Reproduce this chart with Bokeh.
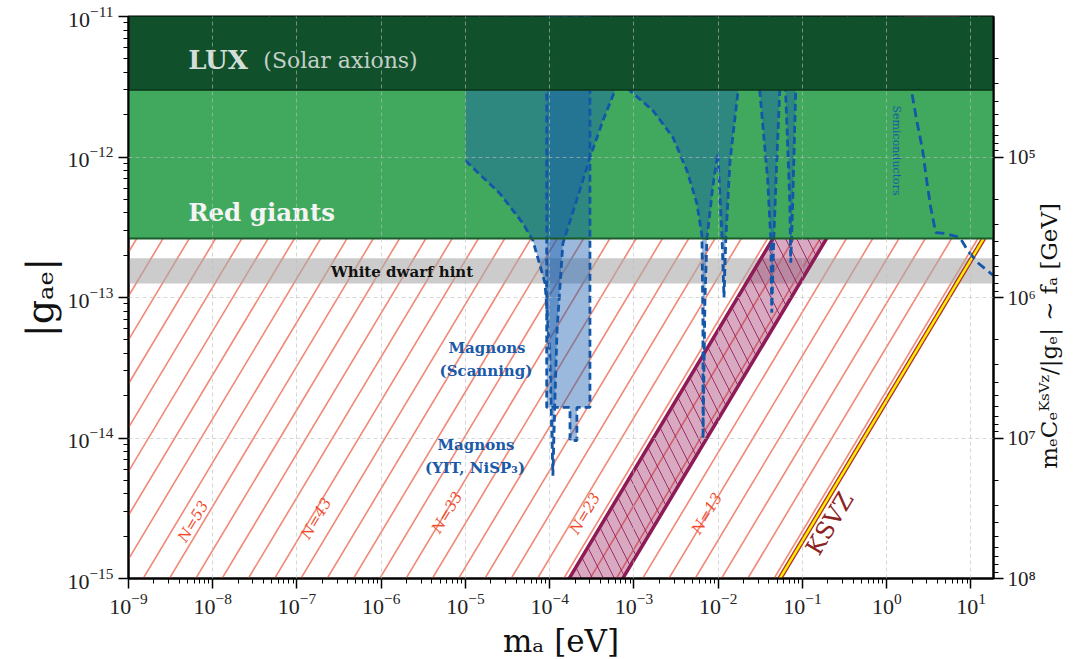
import numpy as np
from bokeh.plotting import figure
from bokeh.models import Range1d, LogAxis, FixedTicker, CustomJSTickFormatter
from bokeh.core.properties import value
from bokeh.embed import file_html
from bokeh.resources import INLINE

# ---------------- data ----------------
x_lim = [1e-9, 18.5]
y_lim = [1e-15, 1e-11]

lux_g = [3.0e-12, 1e-11]          # LUX (solar axions) excluded band
rg_g = [2.63e-13, 3.0e-12]        # red giants excluded band
wd_g = [1.26e-13, 1.9e-13]        # white dwarf hint band

# log10(m_a/eV) where each hatch line crosses g = 1e-15 (lines have g ∝ m_a)
hatch_log_m0 = [-11.322, -11.010, -10.698, -10.386, -10.074, -9.762, -9.450,
                -9.138, -8.826, -8.514, -8.202, -7.890, -7.578, -7.266, -6.954,
                -6.642, -6.330, -6.018, -5.706, -5.394, -5.082, -4.770, -4.458,
                -4.146, -3.834, -3.522, -3.210, -2.898, -2.586, -2.274, -1.962,
                -1.650, -1.338]

n_labels = ["N=53", "N=43", "N=33", "N=23", "N=13"]
n_label_logm = [-8.233, -6.773, -5.219, -3.582, -2.135]
n_label_logg = [-14.594, -14.573, -14.530, -14.537, -14.537]

# purple band (polygon vertices)
band_m = [1.70e-5, 1.70, 7.35, 7.35e-5]
band_g = [1e-16, 1e-11, 1e-11, 1e-16]

# KSVZ line
ksvz_m = [0.0269, 30.0]
ksvz_g = [5.0e-16, 5.58e-13]

# Magnons (YIT, NiSP3) projected reach
yit_m = [1.0e-5, 2.56e-5, 4.8e-5, 6.3e-5, 8.8e-5, 1.0e-4, 1.09e-4, 1.15e-4, 1.22e-4,
         1.43e-4, 2.27e-4, 3.0e-4, 4.28e-4, 5.94e-4, 6.8e-4, 8.0e-4, 8.95e-4,
         1.68e-3, 2.9e-3, 4.25e-3, 5.58e-3, 6.4e-3, 6.58e-3, 6.6e-3, 6.95e-3,
         7.34e-3, 8.65e-3, 9.9e-3, 1.11e-2, 1.17e-2, 1.23e-2, 1.38e-2, 1.71e-2,
         1.9e-2, 2.86e-2, 3.11e-2, 3.87e-2, 4.2e-2, 4.32e-2, 4.56e-2, 4.95e-2,
         5.37e-2, 5.6e-2, 6.15e-2, 6.3e-2, 7.06e-2, 7.26e-2, 7.66e-2, 8.3e-2, 8.5e-2]
yit_g = [9.4e-13, 5.5e-13, 3.37e-13, 2.55e-13, 1.26e-13, 4.2e-14, 5.4e-15, 1.85e-14, 5.8e-14,
         2.42e-13, 5.78e-13, 9.9e-13, 1.82e-12, 2.97e-12, 3.8e-12, 3.8e-12, 2.97e-12,
         2.14e-12, 1.38e-12, 8.0e-13, 4.67e-13, 2.76e-13, 6.85e-14, 9.9e-15, 9.5e-14,
         2.63e-13, 6.27e-13, 1.06e-12, 2.63e-13, 1.0e-13, 2.63e-13, 9.4e-13, 2.88e-12,
         3.8e-12, 3.8e-12, 2.97e-12, 6.8e-13, 2.63e-13, 7.8e-14, 2.63e-13, 9.4e-13,
         2.97e-12, 3.8e-12, 3.8e-12, 2.97e-12, 4.9e-13, 1.77e-13, 4.9e-13, 2.97e-12, 3.8e-12]

# Magnons (Scanning) region
scan_m = [9.2e-5, 9.2e-5, 1.74e-4, 1.74e-4, 2.1e-4, 2.1e-4, 3.0e-4, 3.0e-4]
scan_g = [1e-11, 1.65e-14, 1.65e-14, 9.6e-15, 9.6e-15, 1.65e-14, 1.65e-14, 1e-11]

# Semiconductors projected reach
semi_m = [1.87, 2.27, 2.67, 2.98, 3.33, 3.81, 4.87, 7.34, 9.14, 12.0, 19.1]
semi_g = [3.5e-12, 1.82e-12, 1.11e-12, 6.8e-13, 4.37e-13, 2.9e-13, 2.86e-13,
          2.68e-13, 2.16e-13, 1.77e-13, 1.41e-13]

x_ticks = [1e-9, 1e-8, 1e-7, 1e-6, 1e-5, 1e-4, 1e-3, 1e-2, 1e-1, 1e0, 1e1]
y_ticks = [1e-15, 1e-14, 1e-13, 1e-12, 1e-11]
fa_ticks = [1e5, 1e6, 1e7, 1e8]      # f_a [GeV] labels on the right axis
fa_per_g = 1e-7                       # f_a = fa_per_g / |g_ae|  (10^5 GeV <-> 10^-12)

# ---------------- styling ----------------
SERIF = "DejaVu Serif"
TICKF = "Liberation Serif"
BLUE_FILL = "#175dae"
BLUE_LINE = "#1456a8"
RG_COL = "#40a95e"
LUX_COL = "#10512c"
HATCH_COL = "#f0826e"
BAND_LINE = "#8e1b55"
RIGHT_LABEL = "mₑCₑᴷˢⱽᶻ/|gₑ|  ∼  fₐ [GeV]"

def minor(ticks):
    out = []
    for t in ticks:
        for k in range(2, 10):
            out.append(t * k)
    return out

def to_g(f):
    return float(f"{fa_per_g / f:.6g}")

p = figure(x_axis_type="log", y_axis_type="log",
           x_range=Range1d(*x_lim), y_range=Range1d(*y_lim),
           frame_width=865, frame_height=562,
           min_border_left=128, min_border_top=16, min_border_right=10, min_border_bottom=10,
           output_backend="svg", toolbar_location=None,
           background_fill_color="white", border_fill_color="white")
p.outline_line_color = "black"
p.outline_line_width = 2

# hatch lines
hx, hy = [], []
for lm in hatch_log_m0:
    m0 = 10 ** lm
    hx.append([m0 * 0.1, m0 * 1e4])
    hy.append([1e-16, 1e-11])
p.multi_line(hx, hy, line_color=HATCH_COL, line_width=1.6, line_alpha=0.95)

# white dwarf hint band
p.varea(x=x_lim, y1=[wd_g[0]] * 2, y2=[wd_g[1]] * 2, fill_color="#aaaaaa", fill_alpha=0.6)

# purple band
p.patch(band_m, band_g, fill_color="#9b1e5c", fill_alpha=0.38,
        line_color=BAND_LINE, line_width=3.5,
        hatch_pattern="\\", hatch_color=BAND_LINE, hatch_alpha=0.85,
        hatch_weight=1.0, hatch_scale=22)

# KSVZ
p.line(ksvz_m, ksvz_g, line_color="#b0302a", line_width=5)
p.line(ksvz_m, ksvz_g, line_color="#ffee00", line_width=2.4)

# red giants
p.varea(x=x_lim, y1=[rg_g[0]] * 2, y2=[rg_g[1]] * 2, fill_color=RG_COL)

# magnon fills
p.varea(x=yit_m, y1=yit_g, y2=[1e-11] * len(yit_m), fill_color=BLUE_FILL, fill_alpha=0.43)
p.patch(scan_m, scan_g, fill_color=BLUE_FILL, fill_alpha=0.43,
        line_color=BLUE_LINE, line_width=2.8, line_dash="7 4")
p.line(yit_m, yit_g, line_color=BLUE_LINE, line_width=2.8, line_dash="7 4")
p.line(semi_m, semi_g, line_color=BLUE_LINE, line_width=2.8, line_dash="9 5")

# LUX
p.varea(x=x_lim, y1=[lux_g[0]] * 2, y2=[lux_g[1] * 2] * 2, fill_color=LUX_COL)
p.line(x_lim, [rg_g[0]] * 2, line_color="#1c5a2c", line_width=2)
p.line(x_lim, [rg_g[1]] * 2, line_color="#0a3519", line_width=1.5)

# ---------------- texts ----------------
p.text(x=[10 ** -8.292], y=[10 ** -11.313], text=["LUX"], text_font=value(SERIF),
       text_font_style="bold", text_font_size="26px", text_color="#d5ded8",
       text_align="left", text_baseline="middle")
p.text(x=[10 ** -7.40], y=[10 ** -11.313], text=["(Solar axions)"], text_font=value(SERIF),
       text_font_size="22px", text_color="#c3cfc7", text_align="left", text_baseline="middle")
p.text(x=[10 ** -8.292], y=[10 ** -12.395], text=["Red giants"], text_font=value(SERIF),
       text_font_style="bold", text_font_size="24.5px", text_color="#f4f4f4",
       text_align="left", text_baseline="middle")
p.text(x=[10 ** -5.753], y=[10 ** -12.815], text=["White dwarf hint"], text_font=value(SERIF),
       text_font_style="bold", text_font_size="15px", text_color="#111111",
       text_align="center", text_baseline="middle")
p.text(x=[10 ** -4.745, 10 ** -4.757, 10 ** -4.875, 10 ** -4.887],
       y=[10 ** -13.356, 10 ** -13.520, 10 ** -14.053, 10 ** -14.210],
       text=["Magnons", "(Scanning)", "Magnons", "(YIT, NiSP₃)"], text_font=value(SERIF),
       text_font_style="bold", text_font_size="15px", text_color="#1a5aa8",
       text_align="center", text_baseline="middle")
p.text(x=[10 ** 0.119], y=[10 ** -11.954], text=["Semiconductors"], text_font=value(SERIF),
       text_font_size="11px", text_color="#1a5aa8", angle=-np.pi / 2,
       text_align="center", text_baseline="middle")
p.text(x=[10 ** v for v in n_label_logm], y=[10 ** v for v in n_label_logg], text=n_labels,
       text_font=value(SERIF), text_font_style="italic", text_font_size="15px",
       text_color="#ee4a2c", angle=1.03, text_align="center", text_baseline="middle")
p.text(x=[10 ** -0.676], y=[10 ** -14.609], text=["KSVZ"], text_font=value(SERIF),
       text_font_size="24px", text_color="#8b2323", angle=1.03,
       text_align="center", text_baseline="middle")

# ---------------- axes ----------------
ba = p.below[0]
la = p.left[0]
ba.ticker = FixedTicker(ticks=x_ticks, minor_ticks=minor(x_ticks[:-1]) + [20, 30])
la.ticker = FixedTicker(ticks=y_ticks, minor_ticks=minor(y_ticks[:-1]))
p.xgrid.ticker = FixedTicker(ticks=x_ticks)
p.ygrid.ticker = FixedTicker(ticks=y_ticks)
for g in (p.xgrid, p.ygrid):
    g.grid_line_color = "#bdbdbd"
    g.grid_line_alpha = 0.6
    g.grid_line_dash = "4 3"
    g.grid_line_width = 1
    g.level = "overlay"

# right axis: f_a in GeV, shares the g range (f_a = 1e-7 / g)
ra_ticker = FixedTicker(ticks=[to_g(f) for f in fa_ticks],
                        minor_ticks=[to_g(f) for f in minor([1e4, 1e5, 1e6, 1e7])])
ra_fmt = CustomJSTickFormatter(args=dict(c=fa_per_g), code="""
const e = Math.round(Math.log10(c / tick));
const sup = {"0":"⁰","1":"¹","2":"²","3":"³","4":"⁴","5":"⁵","6":"⁶","7":"⁷","8":"⁸","9":"⁹","-":"⁻"};
return "10" + String(e).split("").map(ch => sup[ch]).join("");
""")
ra = LogAxis(ticker=ra_ticker, formatter=ra_fmt)
p.add_layout(ra, "right")

for ax in (ba, la, ra):
    ax.axis_line_width = 2
    ax.axis_line_color = "black"
    ax.major_tick_line_width = 1.5
    ax.minor_tick_line_width = 1
    ax.major_tick_out = 10
    ax.major_tick_in = 0
    ax.minor_tick_out = 5
    ax.minor_tick_in = 0
    ax.major_label_text_font = TICKF
    ax.major_label_text_font_size = "22px"
    ax.major_label_text_color = "#222222"
    ax.axis_label_text_font = SERIF
    ax.axis_label_text_font_style = "normal"
    ax.axis_label_text_color = "#111111"

ba.axis_label = "mₐ [eV]"
ba.axis_label_text_font_size = "31px"
ba.axis_label_standoff = 6
la.axis_label = "|gₐₑ|"
la.axis_label_text_font_size = "38px"
la.axis_label_standoff = 2
ra.major_label_standoff = 4
ra.major_label_text_font_size = "21px"

ra.axis_label_text_font_size = "23px"
ra.axis_label_standoff = 10
props = ra.properties()
if "axis_label_orientation" in props and "axis_label_align" in props:
    ra.axis_label = "\u00a0" * 15 + RIGHT_LABEL
    ra.axis_label_orientation = np.pi / 2
    ra.axis_label_align = "start"
else:
    ra.axis_label = RIGHT_LABEL

open("out.html", "w").write(file_html(p, INLINE))
